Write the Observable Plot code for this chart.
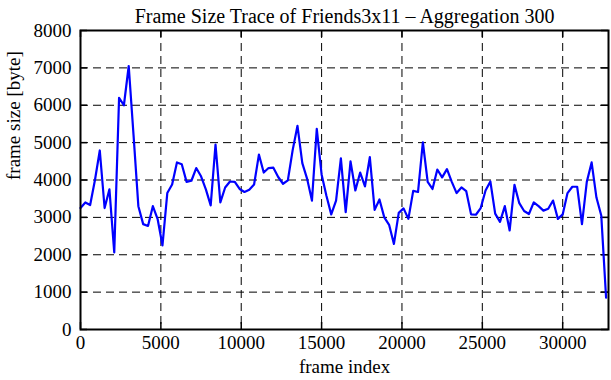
<!DOCTYPE html>
<html><head><meta charset="utf-8">
<script src="https://cdn.jsdelivr.net/npm/d3@7"></script>
<script src="https://cdn.jsdelivr.net/npm/@observablehq/plot@0.6"></script>
<style>body{margin:0;background:#fff}</style>
</head><body><div id="chart"></div>
<script>
const titleText = "Frame Size Trace of Friends3x11 \u2013 Aggregation 300";
const xLabel = "frame index";
const yLabel = "frame size [byte]";
const aggregation = 300;
const frameSizes = [
  3250, 3400, 3330, 4000, 4790, 3250, 3750, 2060, 6200, 6000,
  7050, 5200, 3300, 2820, 2770, 3300, 2950, 2250, 3650, 3880,
  4470, 4420, 3950, 3980, 4320, 4100, 3750, 3320, 4950, 3400,
  3800, 3960, 3950, 3760, 3680, 3740, 3880, 4680, 4200, 4320,
  4330, 4080, 3900, 3990, 4800, 5450, 4450, 4030, 3450, 5370,
  4150, 3580, 3080, 3450, 4580, 3140, 4500, 3720, 4200, 3830,
  4610, 3200, 3480, 3000, 2800, 2290, 3120, 3240, 2960, 3710,
  3680, 5010, 3950, 3760, 4280, 4070, 4290, 3950, 3650, 3800,
  3700, 3080, 3070, 3250, 3720, 3960, 3100, 2880, 3300, 2650,
  3870, 3380, 3170, 3090, 3400, 3300, 3180, 3230, 3450, 2960,
  3080, 3650, 3820, 3820, 2820, 3950, 4470, 3530, 3050, 850
];
const xTicks = [0, 5000, 10000, 15000, 20000, 25000, 30000];
const yTicks = [0, 1000, 2000, 3000, 4000, 5000, 6000, 7000, 8000];
const xMax = 32850;

const data = frameSizes.map((v, i) => ({frame: i * aggregation, size: v}));

const W = 611, H = 380;
const mL = 80, mR = 3, mT = 30, mB = 51;
const pw = W - mL - mR, ph = H - mT - mB;
const tickLen = 7;
const font = "Liberation Serif, Times New Roman, serif";

const chart = Plot.plot({
  width: W, height: H,
  marginLeft: mL, marginRight: mR, marginTop: mT, marginBottom: mB,
  style: {fontFamily: font, fontSize: "19px", background: "#fff", color: "#000"},
  x: {domain: [0, xMax]},
  y: {domain: [0, 8000]},
  marks: [
    Plot.ruleX(xTicks.filter(d => d > 0), {x: d => d, stroke: "#000", strokeWidth: 1, strokeDasharray: "8,5"}),
    Plot.ruleY(yTicks.filter(d => d > 0 && d < 8000), {y: d => d, stroke: "#000", strokeWidth: 1, strokeDasharray: "8,5"}),
    Plot.tickX(xTicks, {x: d => d, insetTop: ph - tickLen, stroke: "#000", strokeWidth: 1.5}),
    Plot.tickX(xTicks, {x: d => d, insetBottom: ph - tickLen, stroke: "#000", strokeWidth: 1.5}),
    Plot.tickY(yTicks, {y: d => d, insetRight: pw - tickLen, stroke: "#000", strokeWidth: 1.5}),
    Plot.tickY(yTicks, {y: d => d, insetLeft: pw - tickLen, stroke: "#000", strokeWidth: 1.5}),
    Plot.line(data, {x: "frame", y: "size", stroke: "#0000ff", strokeWidth: 2.2}),
    Plot.frame({stroke: "#000", strokeWidth: 2}),
    Plot.axisX(xTicks, {tickSize: 0, tickPadding: 6, fontSize: 19, label: null, tickFormat: d => String(d)}),
    Plot.axisY(yTicks, {tickSize: 0, tickPadding: 9, fontSize: 19, label: null, tickFormat: d => String(d)}),
    Plot.text([xLabel], {frameAnchor: "bottom", dy: 43, fontSize: 19, text: d => d}),
    Plot.text([yLabel], {frameAnchor: "left", dx: -67, rotate: -90, fontSize: 19, text: d => d}),
    Plot.text([titleText], {frameAnchor: "top", dy: -22, fontSize: 20, text: d => d})
  ]
});
document.getElementById("chart").appendChild(chart);
</script>
</body></html>
